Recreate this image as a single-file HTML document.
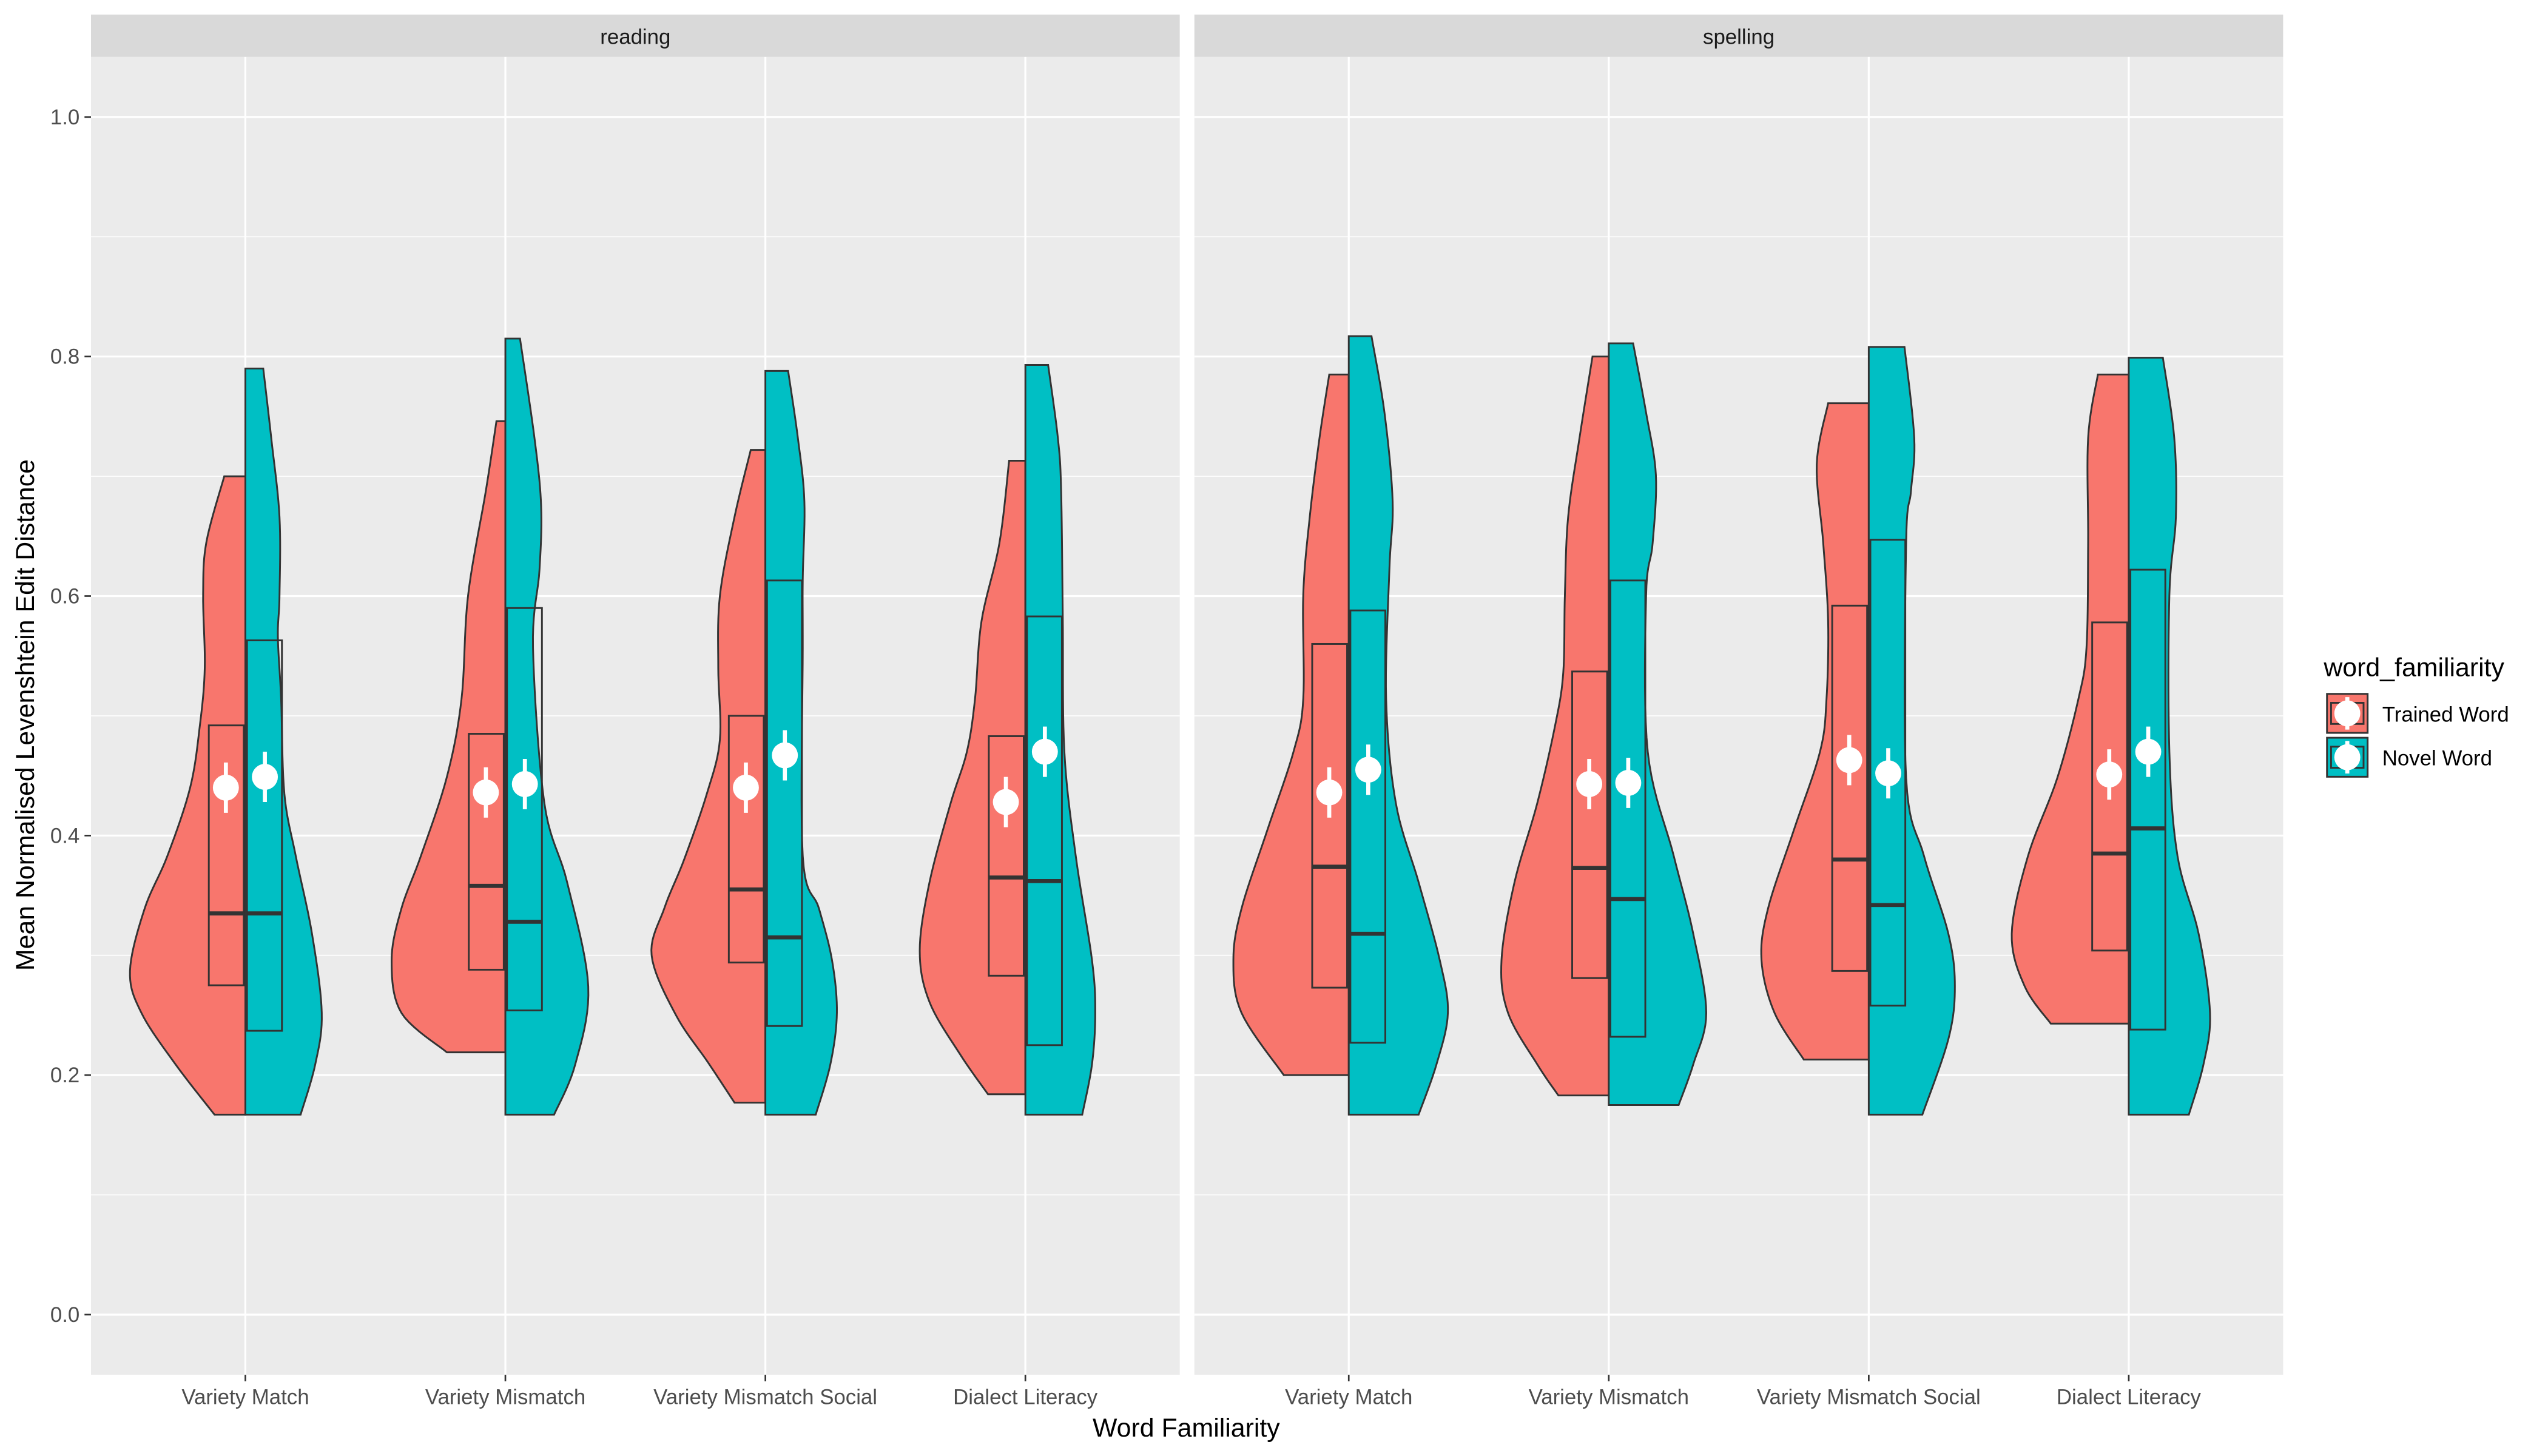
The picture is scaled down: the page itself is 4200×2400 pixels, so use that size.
<!DOCTYPE html>
<html><head><meta charset="utf-8"><style>
html,body{margin:0;padding:0;background:#fff}
svg{display:block}
text{font-family:"Liberation Sans",Arial,sans-serif}
</style></head><body>
<svg id="chart" width="4200" height="2400" viewBox="0 0 1568 896" preserveAspectRatio="none" xmlns="http://www.w3.org/2000/svg"></svg>
<script>
const panels = ["reading","spelling"];
const categories = ["Variety Match","Variety Mismatch","Variety Mismatch Social","Dialect Literacy"];
const yTicks = [0.0,0.2,0.4,0.6,0.8,1.0];
const yTickLabels = ["0.0","0.2","0.4","0.6","0.8","1.0"];
// violin density profiles: [value, half-width]
const trainedProfiles = [
 [[[0.167,19],[0.209,43],[0.252,64],[0.287,71],[0.339,62],[0.383,48],[0.44,34],[0.492,28],[0.54,25],[0.601,26],[0.645,24],[0.70,13]],
  [[0.219,36],[0.252,64],[0.296,70],[0.339,64],[0.383,52],[0.449,36],[0.514,27],[0.60,23],[0.688,12],[0.746,5.5]],
  [[0.177,19],[0.21,35],[0.25,55],[0.30,70],[0.34,62],[0.38,50],[0.435,36],[0.48,28],[0.54,29],[0.60,28],[0.666,19],[0.722,9]],
  [[0.184,23],[0.217,40],[0.261,59],[0.304,65],[0.361,59],[0.427,46],[0.47,36],[0.514,31],[0.579,27],[0.644,16],[0.713,10]]],
 [[[0.2,40],[0.252,66],[0.296,71],[0.339,66],[0.405,50],[0.47,34],[0.514,28],[0.601,28],[0.666,24],[0.732,18],[0.785,12]],
  [[0.183,31],[0.209,44],[0.252,62],[0.296,66],[0.361,58],[0.427,44],[0.492,33],[0.536,28],[0.601,27],[0.666,25],[0.732,18],[0.80,10]],
  [[0.213,40],[0.252,58],[0.296,66],[0.339,62],[0.405,46],[0.47,30],[0.514,26],[0.579,25],[0.644,28],[0.71,32],[0.761,25]],
  [[0.243,48],[0.274,64],[0.318,72],[0.383,62],[0.448,44],[0.514,31],[0.557,26],[0.644,25],[0.732,25],[0.785,19]]]
];
const novelProfiles = [
 [[[0.167,34],[0.209,43],[0.252,47],[0.318,41],[0.383,31],[0.435,24],[0.514,22],[0.566,20],[0.60,21],[0.666,21],[0.731,16],[0.79,11]],
  [[0.167,30],[0.209,43],[0.274,51],[0.361,38],[0.427,24],[0.557,17],[0.622,21],[0.675,22],[0.731,18],[0.815,9]],
  [[0.167,31],[0.209,40],[0.252,44],[0.296,41],[0.339,33],[0.383,23],[0.557,23],[0.614,23],[0.679,24],[0.732,20],[0.788,14]],
  [[0.167,35],[0.209,41],[0.252,43],[0.296,41],[0.383,31],[0.47,24],[0.583,23],[0.688,22],[0.732,20],[0.793,14]]],
 [[[0.167,43],[0.209,54],[0.252,61],[0.296,56],[0.361,43],[0.427,29],[0.514,23],[0.622,25],[0.679,27],[0.753,22],[0.817,14]],
  [[0.175,43],[0.209,52],[0.252,60],[0.318,52],[0.383,40],[0.47,24],[0.601,23],[0.644,27],[0.701,29],[0.753,23],[0.811,15]],
  [[0.167,33],[0.230,49],[0.274,53],[0.318,49],[0.383,34],[0.448,23],[0.644,23],[0.688,26],[0.732,28],[0.808,22]],
  [[0.167,37],[0.209,46],[0.252,50],[0.318,43],[0.383,30],[0.47,25],[0.601,25],[0.666,29],[0.732,28],[0.799,21]]]
];
const trainedBoxes = [[[0.275,0.335,0.492],[0.288,0.358,0.485],[0.294,0.355,0.50],[0.283,0.365,0.483]],
                      [[0.273,0.374,0.56],[0.281,0.373,0.537],[0.287,0.38,0.592],[0.304,0.385,0.578]]];
const novelBoxes = [[[0.237,0.335,0.563],[0.254,0.328,0.59],[0.241,0.315,0.613],[0.225,0.362,0.583]],
                    [[0.227,0.318,0.588],[0.232,0.347,0.613],[0.258,0.342,0.647],[0.238,0.406,0.622]]];
const trainedMeans = [[0.44,0.436,0.44,0.428],[0.436,0.443,0.463,0.451]];
const novelMeans = [[0.449,0.443,0.467,0.47],[0.455,0.444,0.452,0.47]];
const meanErr = 0.021;

const NS="http://www.w3.org/2000/svg";
const svg=document.getElementById('chart');
function mk(tag,attrs,parent){const e=document.createElementNS(NS,tag);for(const k in attrs)e.setAttribute(k,attrs[k]);(parent||svg).appendChild(e);return e;}
const panelX=[56,735], panelW=670, plotTop=35, plotBot=846;
function yScale(v){return 809 - v*737;}
function xScale(p,i){return panelX[p]+95+i*160;}
const RED="#F8766D", TEAL="#00BFC4";

function violinPath(cx,prof,dir){
  const pts=[];
  for(let i=0;i<prof.length-1;i++){
    const p0=prof[Math.max(0,i-1)],p1=prof[i],p2=prof[i+1],p3=prof[Math.min(prof.length-1,i+2)];
    for(let t=0;t<1;t+=0.1){
      const t2=t*t,t3=t2*t;
      const f=(a,b,c,d)=>0.5*((2*b)+(-a+c)*t+(2*a-5*b+4*c-d)*t2+(-a+3*b-3*c+d)*t3);
      pts.push([f(p0[0],p1[0],p2[0],p3[0]),Math.max(0,f(p0[1],p1[1],p2[1],p3[1]))]);
    }
  }
  pts.push(prof[prof.length-1]);
  let d=`M${cx},${yScale(prof[0][0])}`;
  pts.forEach(p=>{d+=` L${cx+dir*p[1]},${yScale(p[0])}`;});
  d+=` L${cx},${yScale(prof[prof.length-1][0])} Z`;
  return d;
}

panels.forEach((pn,p)=>{
  const x0=panelX[p];
  const bg=mk('rect',{x:x0,y:plotTop,width:panelW,height:plotBot-plotTop,fill:'#EBEBEB'});
  
  
  for(let v=0.1;v<1.05;v+=0.2){mk('line',{x1:x0,x2:x0+panelW,y1:yScale(v),y2:yScale(v),stroke:'#fff','stroke-width':0.6});}
  yTicks.forEach(v=>{const g=mk('line',{x1:x0,x2:x0+panelW,y1:yScale(v),y2:yScale(v),stroke:'#fff','stroke-width':1.2});
    
    });
  categories.forEach((c,i)=>{mk('line',{x1:xScale(p,i),x2:xScale(p,i),y1:plotTop,y2:plotBot,stroke:'#fff','stroke-width':1.2});});
  const st=mk('rect',{x:x0,y:9,width:panelW,height:26,fill:'#D9D9D9'});
  
  
  const stt=mk('text',{x:x0+panelW/2,y:27,'text-anchor':'middle','font-size':13,fill:'#1A1A1A'});
  stt.textContent=pn;
  
  
  categories.forEach((c,i)=>{
    const cx=xScale(p,i);
    const vr=mk('path',{d:violinPath(cx,trainedProfiles[p][i],-1),fill:RED,stroke:'#333','stroke-width':1.1});
    
    
    const vt=mk('path',{d:violinPath(cx,novelProfiles[p][i],1),fill:TEAL,stroke:'#333','stroke-width':1.1});
    
    
    [[trainedBoxes,-22.5],[novelBoxes,1]].forEach(([B,off])=>{
      const b=B[p][i];
      const r=mk('rect',{x:cx+off,y:yScale(b[2]),width:21.5,height:yScale(b[0])-yScale(b[2]),fill:'none',stroke:'#333','stroke-width':1.1});
      
      
      mk('line',{x1:cx+off,x2:cx+off+21.5,y1:yScale(b[1]),y2:yScale(b[1]),stroke:'#333','stroke-width':2.5});
    });
    [[trainedMeans,-12],[novelMeans,12]].forEach(([M,off])=>{
      const m=M[p][i];
      mk('line',{x1:cx+off,x2:cx+off,y1:yScale(m+meanErr),y2:yScale(m-meanErr),stroke:'#fff','stroke-width':2.5});
      const d=mk('circle',{cx:cx+off,cy:yScale(m),r:8,fill:'#fff'});
      
      
    });
    mk('line',{x1:cx,x2:cx,y1:plotBot,y2:plotBot+4,stroke:'#333','stroke-width':1});
    const t=mk('text',{x:cx,y:864,'text-anchor':'middle','font-size':13,fill:'#4D4D4D'});
    t.textContent=c;
    
    
  });
});
yTicks.forEach((v,k)=>{
  mk('line',{x1:52,x2:56,y1:yScale(v),y2:yScale(v),stroke:'#333','stroke-width':1});
  const t=mk('text',{x:49,y:yScale(v)+4.5,'text-anchor':'end','font-size':13,fill:'#4D4D4D'});
  t.textContent=yTickLabels[k];
  
  
});
const xt=mk('text',{x:730,y:884,'text-anchor':'middle','font-size':16,fill:'#000'});
xt.textContent='Word Familiarity';


const yt=mk('text',{x:21,y:440,'text-anchor':'middle','font-size':16,fill:'#000',transform:'rotate(-90 21 440)'});
yt.textContent='Mean Normalised Levenshtein Edit Distance';


const lt=mk('text',{x:1430,y:416,'font-size':16,fill:'#000'});
lt.textContent='word_familiarity';


[["Trained Word",RED,439],["Novel Word",TEAL,466]].forEach(([lab,col,y])=>{
  const k=mk('rect',{x:1432,y:y-12,width:25,height:24,fill:col,stroke:'#333','stroke-width':1.1});
  
  
  mk('rect',{x:1434.5,y:y-6.5,width:20,height:13,fill:'none',stroke:'#333','stroke-width':1.1});
  mk('line',{x1:1444.5,x2:1444.5,y1:y-10,y2:y+10,stroke:'#fff','stroke-width':2.5});
  mk('circle',{cx:1444.5,cy:y,r:8,fill:'#fff'});
  const t=mk('text',{x:1466,y:y+5,'font-size':13,fill:'#000'});
  t.textContent=lab;
  
  
});
</script>
</body></html>
